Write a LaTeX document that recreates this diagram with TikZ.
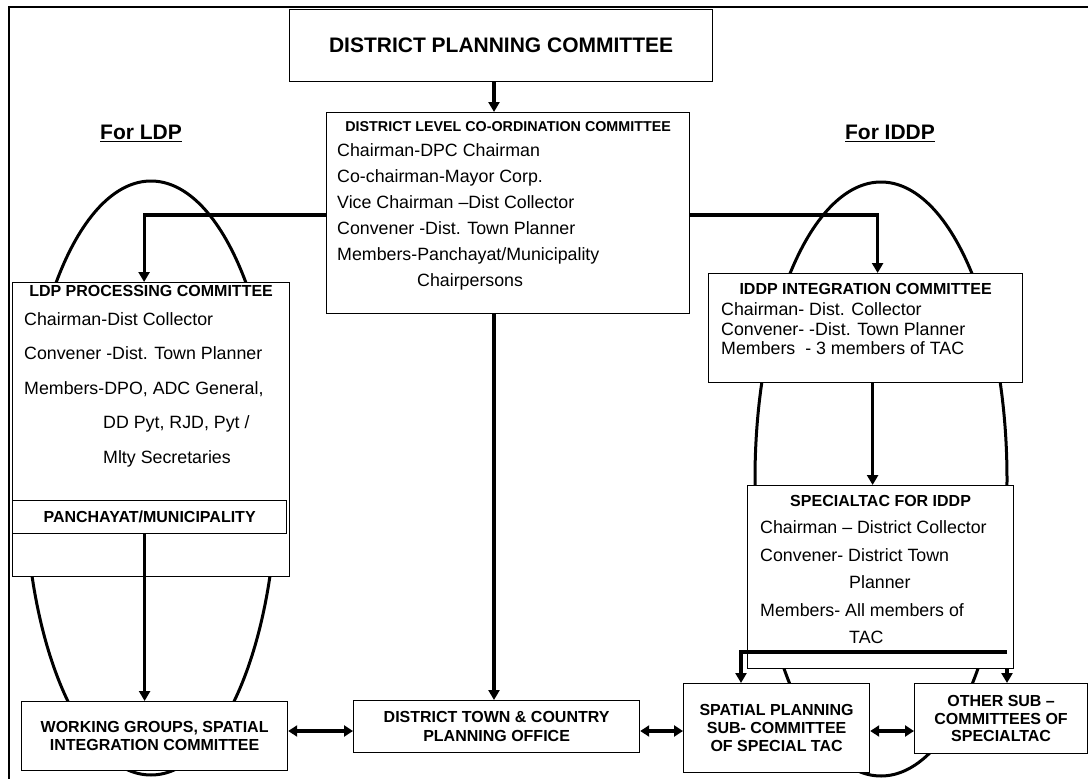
\documentclass[tikz,border=0pt]{standalone}
\usepackage{fontspec}
\setmainfont{Liberation Sans}
\usetikzlibrary{arrows.meta,positioning}

\tikzset{
  box/.style={draw, line width=1.2pt, fill=white, inner sep=0pt, anchor=north west,
    align=center, font=\bfseries\fontsize{16}{17.5}\selectfont},
  head/.style={inner sep=0pt, font=\bfseries\fontsize{16}{17.5}\selectfont},
  body/.style={inner sep=0pt, anchor=north west, align=left},
  link/.style={line width=3.2pt},
  arr/.style={link, -{Triangle[length=10pt,width=11pt]}},
  dbl/.style={link, {Triangle[length=9pt,width=11pt]}-{Triangle[length=9pt,width=11pt]}},
  ring/.style={line width=3pt},
}

\begin{document}
\begin{tikzpicture}[x=1pt,y=-1pt]
  \useasboundingbox (0,0) rectangle (1088,779);
  % frame
  \draw[line width=1.8pt] (9,779) -- (9,7) -- (1088,7);

  % the two loops
  \draw[ring] (151,478) ellipse [x radius=126pt, y radius=297pt];
  \draw[ring] (881,479) ellipse [x radius=126pt, y radius=297pt];
  \node[font=\bfseries\fontsize{21}{24}\selectfont] (forldp) at (141,133) {\underline{For LDP}};
  \node[font=\bfseries\fontsize{21}{24}\selectfont] (foriddp) at (890,133) {\underline{For IDDP}};

  % boxes
  \node[box, minimum width=423pt, minimum height=72pt, font=\bfseries\fontsize{21}{24}\selectfont]
    (dpc) at (289,9) {DISTRICT PLANNING COMMITTEE};
  \node[box, minimum width=363pt, minimum height=201pt] (dlcc) at (326,112) {};
  \node[box, minimum width=277pt, minimum height=294pt] (ldp) at (12,282) {};
  \node[box, minimum width=274pt, minimum height=33pt] (pyt) at (12,500) {PANCHAYAT/MUNICIPALITY};
  \node[box, minimum width=266pt, minimum height=69pt] (wg) at (21,701)
    {WORKING GROUPS, SPATIAL\\INTEGRATION COMMITTEE};
  \node[box, minimum width=286pt, minimum height=52pt, font=\bfseries\fontsize{16}{19}\selectfont]
    (dtcpo) at (353,700) {DISTRICT TOWN \& COUNTRY\\PLANNING OFFICE};
  \node[box, minimum width=314pt, minimum height=109pt] (iddp) at (708,273) {};
  \node[box, minimum width=266pt, minimum height=183pt] (stac) at (747,485) {};
  \node[box, minimum width=186pt, minimum height=89pt, font=\bfseries\fontsize{16}{18}\selectfont]
    (spc) at (683,683) {SPATIAL PLANNING\\SUB- COMMITTEE\\OF SPECIAL TAC};
  \node[box, minimum width=173pt, minimum height=70pt] (other) at (914,683)
    {OTHER SUB --\\COMMITTEES OF\\SPECIALTAC};

  % box texts
  \node[head, font=\bfseries\fontsize{14.3}{16}\selectfont, below=9pt of dlcc.north] (dlcchd)
    {DISTRICT LEVEL CO-ORDINATION COMMITTEE};
  \node[body, font=\fontsize{17.8}{26}\selectfont] (dlcctxt) at (337,143.5)
    {Chairman-DPC Chairman\\Co-chairman-Mayor Corp.\\Vice Chairman --Dist Collector\\
     Convener -Dist. Town Planner\\Members-Panchayat/Municipality\\\hspace*{80pt}Chairpersons};
  \node[head, below=3pt of ldp.north] (ldphd) {LDP PROCESSING COMMITTEE};
  \node[body, font=\fontsize{17.8}{34.5}\selectfont] (ldptxt) at (24,312)
    {Chairman-Dist Collector\\Convener -Dist. Town Planner\\Members-DPO, ADC General,\\
     \hspace*{79pt}DD Pyt, RJD, Pyt /\\\hspace*{79pt}Mlty Secretaries};
  \node[head, below=10pt of iddp.north] (iddphd) {IDDP INTEGRATION COMMITTEE};
  \node[body, font=\fontsize{17.8}{19.5}\selectfont] (iddptxt) at (721,302.5)
    {Chairman- Dist. Collector\\Convener- -Dist. Town Planner\\Members~ - 3 members of TAC};
  \node[head, below=10pt of stac.north] (stachd) {SPECIALTAC FOR IDDP};
  \node[body, font=\fontsize{17.8}{27.5}\selectfont] (stactxt) at (760,520.5)
    {Chairman -- District Collector\\Convener- District Town\\\hspace*{89pt}Planner\\
     Members- All members of\\\hspace*{89pt}TAC};

  % connectors
  \coordinate (spine) at (494,0);
  \coordinate (branch) at (0,215);
  \coordinate (row) at (0,731);
  \coordinate (splitL) at (741,652);
  \coordinate (splitR) at (1007,652);
  \draw[arr] (dpc.south -| spine) -- (dlcc.north -| spine);
  \draw[arr] (dlcc.south -| spine) -- (dtcpo.north -| spine);
  \draw[arr] (dlcc.west |- branch) -| ([xshift=-7pt]ldp.north);
  \draw[arr] (dlcc.east |- branch) -| ([xshift=12pt]iddp.north);
  \draw[arr] ([xshift=-5pt]pyt.south) -- ([xshift=-5pt]pyt.south |- wg.north);
  \draw[arr] ([xshift=7pt]iddp.south) -- ([xshift=7pt]iddp.south |- stac.north);
  \draw[arr] (splitR) -- (splitL) -- (splitL |- spc.north);
  \draw[arr] (stac.south -| splitR) -- (splitR |- other.north);
  \draw[dbl] (wg.east |- row) -- (dtcpo.west |- row);
  \draw[dbl] (dtcpo.east |- row) -- (spc.west |- row);
  \draw[dbl] (spc.east |- row) -- (other.west |- row);
\end{tikzpicture}
\end{document}
